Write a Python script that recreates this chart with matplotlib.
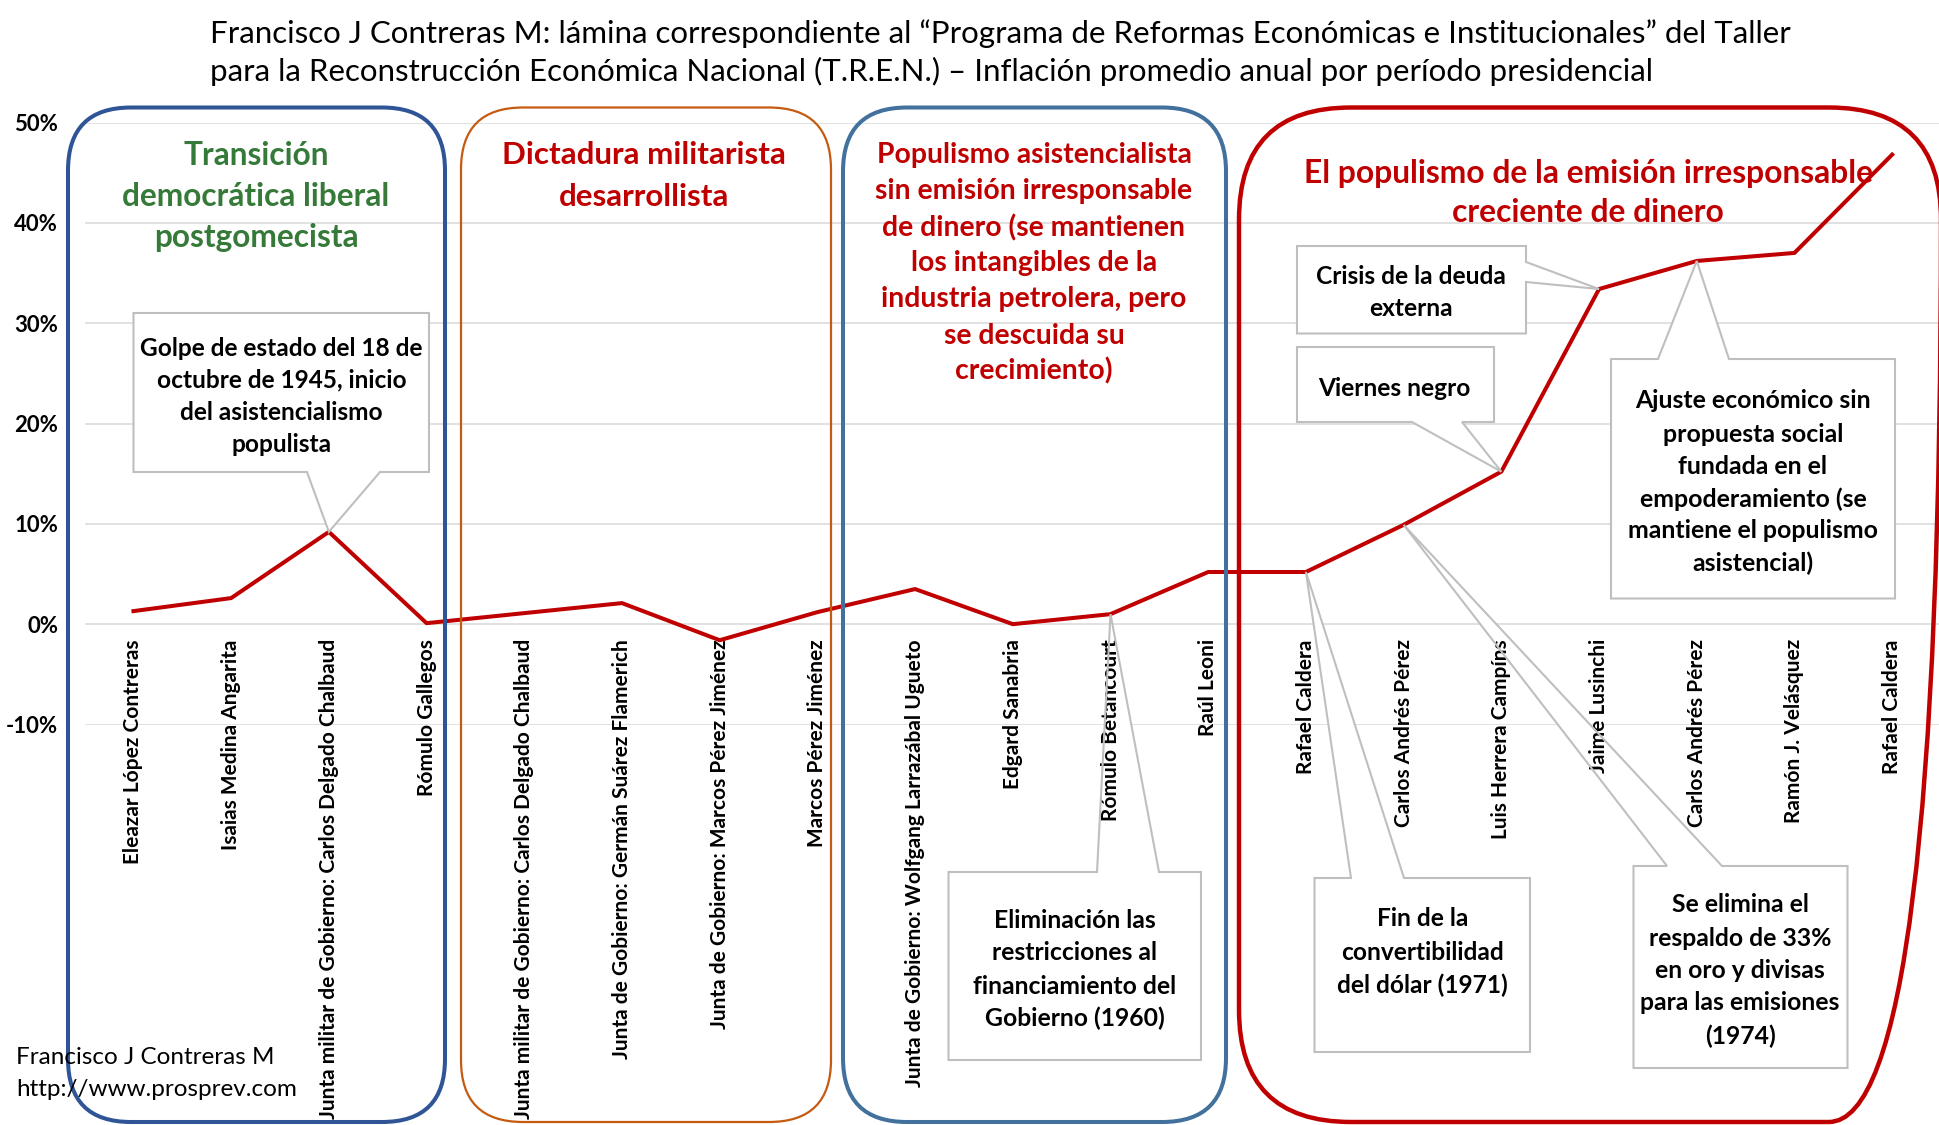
import matplotlib
matplotlib.use("Agg")
import matplotlib.pyplot as plt
from matplotlib.patches import FancyBboxPatch, Polygon

plt.rcParams['font.family'] = ['Lato', 'DejaVu Sans']

W, H = 1939, 1125

presidentes = [
    "Eleazar López Contreras",
    "Isaias Medina Angarita",
    "Junta militar de Gobierno: Carlos Delgado Chalbaud",
    "Rómulo Gallegos",
    "Junta militar de Gobierno: Carlos Delgado Chalbaud",
    "Junta de Gobierno: Germán Suárez Flamerich",
    "Junta de Gobierno: Marcos Pérez Jiménez",
    "Marcos Pérez Jiménez",
    "Junta de Gobierno: Wolfgang Larrazábal Ugueto",
    "Edgard Sanabria",
    "Rómulo Betancourt",
    "Raúl Leoni",
    "Rafael Caldera",
    "Carlos Andrés Pérez",
    "Luis Herrera Campíns",
    "Jaime Lusinchi",
    "Carlos Andrés Pérez",
    "Ramón J. Velásquez",
    "Rafael Caldera",
]
# inflación promedio anual (%) por período
inflacion = [1.3, 2.6, 9.2, 0.1, 1.1, 2.1, -1.6, 1.2, 3.5, 0.0,
             1.0, 5.2, 5.2, 9.9, 15.2, 33.4, 36.2, 37.0, 46.8]

titulo = [
    "Francisco J Contreras M: lámina correspondiente al “Programa de Reformas Económicas e Institucionales” del Taller",
    "para la Reconstrucción Económica Nacional (T.R.E.N.) – Inflación promedio anual por período presidencial",
]
etapas = [
    "Transición\ndemocrática liberal\npostgomecista",
    "Dictadura militarista\ndesarrollista",
    "Populismo asistencialista\nsin emisión irresponsable\nde dinero (se mantienen\nlos intangibles de la\n"
    "industria petrolera, pero\nse descuida su\ncrecimiento)",
    "El populismo de la emisión irresponsable\ncreciente de dinero",
]
notas = [
    "Golpe de estado del 18 de\noctubre de 1945, inicio\ndel asistencialismo\npopulista",
    "Eliminación las\nrestricciones al\nfinanciamiento del\nGobierno (1960)",
    "Fin de la\nconvertibilidad\ndel dólar (1971)",
    "Se elimina el\nrespaldo de 33%\nen oro y divisas\npara las emisiones\n(1974)",
    "Crisis de la deuda\nexterna",
    "Viernes negro",
    "Ajuste económico sin\npropuesta social\nfundada en el\nempoderamiento (se\nmantiene el populismo\nasistencial)",
]
notas_periodo = [2, 10, 12, 13, 15, 14, 16]
firma = ["Francisco J Contreras M", "http://www.prosprev.com"]

fig = plt.figure(figsize=(W / 100, H / 100), dpi=100)

# capa en pixeles de la imagen (y hacia abajo) para cajas y textos
ov = fig.add_axes([0, 0, 1, 1])
ov.set_xlim(0, W)
ov.set_ylim(H, 0)
ov.axis('off')
px = ov.transData

ax = fig.add_axes([84.6 / W, (H - 724.5) / H, (1941 - 84.6) / W, 602 / H])
ax.set_facecolor('none')
# eje de categorias sobre el 0%
ax.spines['bottom'].set_position(('data', 0))
for s in ax.spines.values():
    s.set_visible(False)

xs = list(range(len(presidentes)))
ax.plot(xs, inflacion, color='#C00000', lw=2.9, zorder=4)
ax.set_xlim(-0.5, len(presidentes) - 0.5)
ax.set_ylim(-10, 50)
ticks = list(range(-10, 51, 10))
ax.set_yticks(ticks)
ax.set_yticklabels([f'{t}%' for t in ticks], fontsize=16, fontweight='bold')
ax.set_xticks(xs)
ax.set_xticklabels(presidentes, rotation=90, fontsize=15, fontweight='bold')
ax.tick_params(axis='x', length=0, pad=10.8)
ax.tick_params(axis='y', length=0, pad=19)
# lineas de division debajo de todo
for t in ticks:
    ax.axhline(t, color='#D9D9D9', lw=1.1, zorder=0.3)

r = fig.canvas.get_renderer()


def bloque(x, ys, texto, ancho, ha='center', **kw):
    ts = [ax.text(x, y, l, transform=px, ha=ha, va='center_baseline', fontsize=20, **kw)
          for l, y in zip(texto.split('\n'), ys)]
    w = max(t.get_window_extent(r).width for t in ts)
    for t in ts:
        t.set_fontsize(20 * ancho / w)


def punto(i):
    return px.inverted().transform(ax.transData.transform((i, inflacion[i])))


# marcos redondeados de cada etapa
marcos = [(68, 445, '#2F5597', 2.9, 63), (461, 831, '#C55A11', 1.6, 62),
          (843, 1226, '#41719C', 2.9, 64), (1239, 1941, '#C00000', 3.2, 112)]
for x0, x1, c, lw, rad in marcos:
    ax.add_patch(FancyBboxPatch((x0, 107.5), x1 - x0, 1122 - 107.5,
                                boxstyle=f'round,pad=0,rounding_size={rad}', transform=px,
                                fill=False, ec=c, lw=lw, clip_on=False, zorder=5))

etapas_pos = [(256, [153, 194, 235], 268, '#357A38'),
              (644, [153, 194], 284, '#C00000'),
              (1034, [153, 189, 225, 261, 297, 333, 368.5], 317, '#C00000'),
              (1588, [171, 210], 570, '#C00000')]
for texto, (x, ys, ancho, c) in zip(etapas, etapas_pos):
    bloque(x, ys, texto, ancho, color=c, fontweight='bold', zorder=2)

# globos de notas: caja, lado de la punta, base de la punta, texto
globos = [
    (133.5, 313, 429, 472, 'bottom', 307, 380, 281.5, [346, 378, 411, 443], 283),
    (948.5, 872, 1201, 1060, 'top', 1097, 1159, 1075, [919, 951, 984, 1016], 203),
    (1314.5, 878, 1530, 1052, 'top', 1351, 1404, 1422.5, [917, 950, 983], 171),
    (1633.5, 866, 1847.5, 1068, 'top', 1667, 1722, 1740, [903, 936, 969, 1001, 1034], 200),
    (1297, 246, 1526, 333.5, 'right', 262, 282, 1411, [275, 306], 190),
    (1297, 347, 1494, 422, 'bottom', 1412, 1462, 1394, [387], 152),
    (1611, 359, 1895, 598.5, 'top', 1658, 1729, 1753, [399, 432, 464, 497, 529, 561], 251),
]
for texto, i, g in zip(notas, notas_periodo, globos):
    x0, y0, x1, y1, lado, b0, b1, tx, ys, ancho = g
    px_, py_ = punto(i)
    if lado == 'bottom':
        pts = [(x0, y0), (x1, y0), (x1, y1), (b1, y1), (px_, py_), (b0, y1), (x0, y1)]
    elif lado == 'top':
        pts = [(x0, y0), (b0, y0), (px_, py_), (b1, y0), (x1, y0), (x1, y1), (x0, y1)]
    else:
        pts = [(x0, y0), (x1, y0), (x1, b0), (px_, py_), (x1, b1), (x1, y1), (x0, y1)]
    # relleno por debajo de las etiquetas del eje, borde por encima
    ax.add_patch(Polygon(pts, closed=True, transform=px, fc='white', ec='none',
                         clip_on=False, zorder=1))
    ax.add_patch(Polygon(pts, closed=True, transform=px, fill=False, ec='#BFBFBF',
                         lw=1.5, clip_on=False, zorder=6))
    bloque(tx, ys, texto, ancho, fontweight='bold', color='black', zorder=7)

bloque(210, [31.5, 69], '\n'.join(titulo), 1583, ha='left', color='black')
bloque(16, [1055, 1087], '\n'.join(firma), 281, ha='left', color='black', zorder=7)

plt.savefig("out.png", dpi=100)
